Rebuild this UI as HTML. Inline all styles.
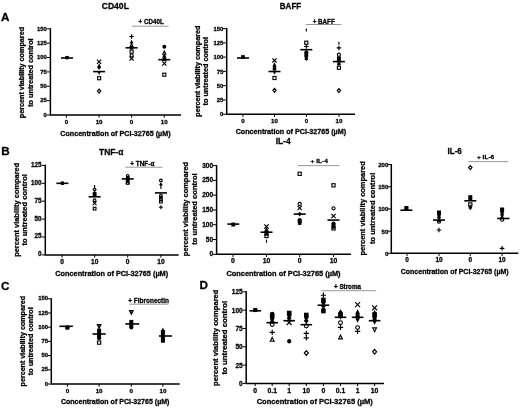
<!DOCTYPE html>
<html lang="en"><head><meta charset="utf-8"><title>Figure</title>
<style>
html,body{margin:0;padding:0;background:#fff}
body{width:520px;height:408px;overflow:hidden}
svg{display:block;filter:blur(0.45px);font-family:"Liberation Sans",Arial,Helvetica,sans-serif;font-weight:bold;fill:#000}
.ax{fill:none;stroke:#000;stroke-width:1.5;stroke-linejoin:miter}
.tk{fill:none;stroke:#000;stroke-width:1}
text{stroke:#000;stroke-width:0.28px;stroke-linejoin:round}
.mn{fill:none;stroke:#000;stroke-width:1.6}
.gl{fill:none;stroke:#333;stroke-width:0.5}
.f{fill:#000;stroke:none}
.o{fill:none;stroke:#000;stroke-width:1.12}
.b{fill:#999;stroke:#000;stroke-width:1.3}
.x{fill:none;stroke:#000;stroke-width:1.15}
</style></head><body>
<svg width="520" height="408" viewBox="0 0 520 408">
<rect width="520" height="408" fill="#fff"/>
<text x="1.1" y="20.8" font-size="11.7" text-anchor="start">A</text>
<text x="1.2" y="155.0" font-size="11.7" text-anchor="start">B</text>
<text x="1.1" y="289.6" font-size="11.7" text-anchor="start">C</text>
<text x="199.4" y="288.9" font-size="11.7" text-anchor="start">D</text>
<g id="pA">
<path d="M50.4 28.2V115H181" class="ax"/>
<text x="46.9" y="116.85" font-size="5.9" text-anchor="end">0</text>
<text x="46.9" y="102.48" font-size="5.9" text-anchor="end">25</text>
<text x="46.9" y="88.12" font-size="5.9" text-anchor="end">50</text>
<text x="46.9" y="73.75" font-size="5.9" text-anchor="end">75</text>
<text x="46.9" y="59.38" font-size="5.9" text-anchor="end">100</text>
<text x="46.9" y="45.02" font-size="5.9" text-anchor="end">125</text>
<text x="46.9" y="30.65" font-size="5.9" text-anchor="end">150</text>
<text x="66.4" y="123.9" font-size="6.2" text-anchor="middle">0</text>
<text x="99.1" y="123.9" font-size="6.2" text-anchor="middle">10</text>
<text x="131.6" y="123.9" font-size="6.2" text-anchor="middle">0</text>
<text x="164.3" y="123.9" font-size="6.2" text-anchor="middle">10</text>
<path d="M46.699999999999996 115.00H50.4M46.699999999999996 100.63H50.4M46.699999999999996 86.27H50.4M46.699999999999996 71.90H50.4M46.699999999999996 57.53H50.4M46.699999999999996 43.17H50.4M46.699999999999996 28.80H50.4M66.4 115V117.7M99.1 115V117.7M131.6 115V117.7M164.3 115V117.7" class="tk"/>
<text x="23.6" y="72.6" font-size="7.3" text-anchor="middle" textLength="91.3" lengthAdjust="spacingAndGlyphs" transform="rotate(-90 23.6 72.6)">percent viability compared</text>
<text x="32.7" y="72.6" font-size="7.3" text-anchor="middle" textLength="68.4" lengthAdjust="spacingAndGlyphs" transform="rotate(-90 32.7 72.6)">to untreated control</text>
<text x="115.4" y="135.7" font-size="7.3" text-anchor="middle" textLength="110.3" lengthAdjust="spacingAndGlyphs">Concentration of PCI-32765 (µM)</text>
<text x="115.3" y="9.2" font-size="8.6" text-anchor="middle" textLength="27.2" lengthAdjust="spacingAndGlyphs">CD40L</text>
<text x="151.2" y="24.4" font-size="6.3" text-anchor="middle" textLength="25.2" lengthAdjust="spacingAndGlyphs">+ CD40L</text>
<path d="M132 26.2H168.5" class="gl"/>
<rect x="65.4" y="56" width="3.2" height="3.2" class="f"/>
<circle cx="67" cy="57.6" r="1.8" class="f"/>
<path d="M61 58H73" class="mn"/>
<path d="M96.99 59.69L101.21 63.91M101.21 59.69L96.99 63.91" class="x"/>
<path d="M99.1 63.35L101.05 67.25H97.15Z" class="f"/>
<path d="M99.1 65.25L101.05 67.5L99.1 69.75L97.15 67.5Z" class="f"/>
<path d="M99.1 74.95L101.05 71.05H97.15Z" class="f"/>
<rect x="97.55" y="76.65" width="3.1" height="3.1" class="o"/>
<path d="M99.1 89.15L100.75 91.1L99.1 93.05L97.45 91.1Z" class="x"/>
<path d="M93.1 71.6H105.1" class="mn"/>
<path d="M129.36 36.5H133.84M131.6 34.26V38.74" class="x"/>
<path d="M131.6 39.65L133.55 43.55H129.65Z" class="f"/>
<path d="M131.6 43.65L133.15 46.85H130.05Z" class="o"/>
<circle cx="131.6" cy="47.8" r="1.95" class="f"/>
<rect x="130.05" y="50.05" width="3.1" height="3.1" class="o"/>
<circle cx="131.6" cy="55.5" r="1.55" class="o"/>
<path d="M129.49 56.49L133.71 60.71M133.71 56.49L129.49 60.71" class="x"/>
<path d="M125.6 47.8H137.6" class="mn"/>
<circle cx="164.3" cy="46.8" r="1.95" class="f"/>
<path d="M164.3 51.05L165.85 54.25H162.75Z" class="o"/>
<path d="M164.3 53.95L166.25 56.2L164.3 58.45L162.35 56.2Z" class="f"/>
<rect x="162.35" y="57.25" width="3.9" height="3.9" class="f"/>
<path d="M162.19 61.39L166.41 65.61M166.41 61.39L162.19 65.61" class="x"/>
<rect x="162.75" y="73.15" width="3.1" height="3.1" class="o"/>
<path d="M158.3 59.7H170.3" class="mn"/>
</g>
<g id="pBAFF">
<path d="M226.7 28.0V114.2H355" class="ax"/>
<text x="223.3" y="116.4" font-size="5.9" text-anchor="end">0</text>
<text x="223.3" y="102.13" font-size="5.9" text-anchor="end">25</text>
<text x="223.3" y="87.87" font-size="5.9" text-anchor="end">50</text>
<text x="223.3" y="73.6" font-size="5.9" text-anchor="end">75</text>
<text x="223.3" y="59.33" font-size="5.9" text-anchor="end">100</text>
<text x="223.3" y="45.07" font-size="5.9" text-anchor="end">125</text>
<text x="223.3" y="30.8" font-size="5.9" text-anchor="end">150</text>
<text x="242.9" y="122.8" font-size="6.2" text-anchor="middle">0</text>
<text x="274.5" y="122.8" font-size="6.2" text-anchor="middle">10</text>
<text x="306.4" y="122.8" font-size="6.2" text-anchor="middle">0</text>
<text x="339" y="122.8" font-size="6.2" text-anchor="middle">10</text>
<path d="M223.0 114.20H226.7M223.0 99.93H226.7M223.0 85.67H226.7M223.0 71.40H226.7M223.0 57.13H226.7M223.0 42.87H226.7M223.0 28.60H226.7M242.9 114.2V116.9M274.5 114.2V116.9M306.4 114.2V116.9M339 114.2V116.9" class="tk"/>
<text x="200.1" y="71.2" font-size="7.3" text-anchor="middle" textLength="91.1" lengthAdjust="spacingAndGlyphs" transform="rotate(-90 200.1 71.2)">percent viability compared</text>
<text x="208.5" y="71.2" font-size="7.3" text-anchor="middle" textLength="68.4" lengthAdjust="spacingAndGlyphs" transform="rotate(-90 208.5 71.2)">to untreated control</text>
<text x="290.85" y="134.0" font-size="7.3" text-anchor="middle" textLength="110.4" lengthAdjust="spacingAndGlyphs">Concentration of PCI-32765 (µM)</text>
<text x="290.5" y="8.8" font-size="8.6" text-anchor="middle" textLength="21.5" lengthAdjust="spacingAndGlyphs">BAFF</text>
<text x="323.7" y="23.7" font-size="6.3" text-anchor="middle" textLength="22.1" lengthAdjust="spacingAndGlyphs">+ BAFF</text>
<path d="M305.9 24.5H341.5" class="gl"/>
<rect x="241.7" y="55.7" width="2.6" height="2.6" class="o"/>
<rect x="241.8" y="56" width="2.4" height="2.4" class="f"/>
<path d="M237 58H249" class="mn"/>
<path d="M272.39 58.29L276.61 62.51M276.61 58.29L272.39 62.51" class="x"/>
<path d="M274.5 62.35L276.45 66.25H272.55Z" class="f"/>
<path d="M274.5 64.25L276.45 66.5L274.5 68.75L272.55 66.5Z" class="f"/>
<circle cx="274.5" cy="68.7" r="1.95" class="f"/>
<path d="M274.5 74.65L276.45 70.75H272.55Z" class="f"/>
<rect x="272.95" y="76.45" width="3.1" height="3.1" class="o"/>
<path d="M274.5 88.35L276.15 90.3L274.5 92.25L272.85 90.3Z" class="x"/>
<path d="M268.5 71.5H280.5" class="mn"/>
<path d="M306.3 28.45V31.55" class="o"/>
<rect x="304.75" y="41.15" width="3.1" height="3.1" class="o"/>
<path d="M304.06 46.5H308.54M306.3 44.26V48.74" class="x"/>
<circle cx="306.3" cy="52.2" r="1.95" class="f"/>
<rect x="304.35" y="52.55" width="3.9" height="3.9" class="f"/>
<path d="M306.3 54.25L308.25 56.5L306.3 58.75L304.35 56.5Z" class="f"/>
<path d="M306.3 56.05L308.25 59.95H304.35Z" class="f"/>
<path d="M306.3 61.25L308.25 57.35H304.35Z" class="f"/>
<path d="M300.3 49.7H312.3" class="mn"/>
<path d="M338.9 41.75V44.85" class="o"/>
<path d="M336.66 47.9H341.14M338.9 45.66V50.14" class="x"/>
<circle cx="338.9" cy="54.7" r="1.55" class="o"/>
<rect x="336.95" y="56.35" width="3.9" height="3.9" class="f"/>
<circle cx="338.9" cy="60.5" r="1.95" class="f"/>
<path d="M338.9 61.05L340.85 64.95H336.95Z" class="f"/>
<path d="M338.9 66.45L340.85 62.55H336.95Z" class="f"/>
<rect x="337.35" y="66.15" width="3.1" height="3.1" class="o"/>
<path d="M338.9 88.65L340.55 90.6L338.9 92.55L337.25 90.6Z" class="x"/>
<path d="M332.9 61.6H344.9" class="mn"/>
</g>
<g id="pTNF">
<path d="M45.3 164.8V254.9H178.6" class="ax"/>
<text x="41.6" y="256.3" font-size="6.3" text-anchor="end">0</text>
<text x="41.6" y="238.4" font-size="6.3" text-anchor="end">25</text>
<text x="41.6" y="220.5" font-size="6.3" text-anchor="end">50</text>
<text x="41.6" y="202.6" font-size="6.3" text-anchor="end">75</text>
<text x="41.6" y="184.7" font-size="6.3" text-anchor="end">100</text>
<text x="41.6" y="166.8" font-size="6.3" text-anchor="end">125</text>
<text x="62" y="264.4" font-size="6.6" text-anchor="middle">0</text>
<text x="94.7" y="264.4" font-size="6.6" text-anchor="middle">10</text>
<text x="127.7" y="264.4" font-size="6.6" text-anchor="middle">0</text>
<text x="160.9" y="264.4" font-size="6.6" text-anchor="middle">10</text>
<path d="M41.599999999999994 254.90H45.3M41.599999999999994 237.00H45.3M41.599999999999994 219.10H45.3M41.599999999999994 201.20H45.3M41.599999999999994 183.30H45.3M41.599999999999994 165.40H45.3M62 254.9V257.6M94.7 254.9V257.6M127.7 254.9V257.6M160.9 254.9V257.6" class="tk"/>
<text x="18.6" y="209.8" font-size="7.5" text-anchor="middle" textLength="94.1" lengthAdjust="spacingAndGlyphs" transform="rotate(-90 18.6 209.8)">percent viability compared</text>
<text x="27.4" y="209.8" font-size="7.5" text-anchor="middle" textLength="71.4" lengthAdjust="spacingAndGlyphs" transform="rotate(-90 27.4 209.8)">to untreated control</text>
<text x="111.7" y="276.2" font-size="7.5" text-anchor="middle" textLength="112.9" lengthAdjust="spacingAndGlyphs">Concentration of PCI-32765 (µM)</text>
<text x="111.2" y="154.9" font-size="8.6" text-anchor="middle" textLength="24.2" lengthAdjust="spacingAndGlyphs">TNF-α</text>
<text x="142.3" y="165.6" font-size="6.3" text-anchor="middle" textLength="24.1" lengthAdjust="spacingAndGlyphs">+ TNF-α</text>
<path d="M125.3 167.2H162.5" class="gl"/>
<rect x="60.8" y="181.6" width="3.2" height="3.2" class="f"/>
<circle cx="62.4" cy="183.3" r="1.7" class="f"/>
<path d="M56.4 183.3H68.4" class="mn"/>
<path d="M94.6 184.95V187.65" class="o"/>
<path d="M94.6 187.85L96.05 189.6L94.6 191.35L93.15 189.6Z" class="x"/>
<path d="M94.6 190.45L96.35 193.95H92.85Z" class="f"/>
<rect x="93.25" y="192.65" width="2.7" height="2.7" class="o"/>
<circle cx="94.6" cy="195.6" r="1.75" class="f"/>
<circle cx="94.6" cy="200.2" r="1.35" class="o"/>
<path d="M92.71 201.41L96.49 205.19M96.49 201.41L92.71 205.19" class="x"/>
<rect x="93.25" y="207.25" width="2.7" height="2.7" class="o"/>
<path d="M88.6 196.8H100.6" class="mn"/>
<circle cx="127.7" cy="175.9" r="1.35" class="o"/>
<rect x="125.95" y="175.85" width="3.5" height="3.5" class="f"/>
<circle cx="127.7" cy="179" r="1.75" class="f"/>
<path d="M127.7 178.65L129.45 182.15H125.95Z" class="f"/>
<path d="M125.81 179.91L129.59 183.69M129.59 179.91L125.81 183.69" class="x"/>
<rect x="126.35" y="181.55" width="2.7" height="2.7" class="o"/>
<path d="M121.7 178.9H133.7" class="mn"/>
<circle cx="160.9" cy="180.5" r="1.35" class="o"/>
<path d="M160.9 182.55L162.65 184.6L160.9 186.65L159.15 184.6Z" class="f"/>
<path d="M160.9 186.25V188.95" class="o"/>
<circle cx="160.9" cy="195.6" r="1.35" class="o"/>
<rect x="159.15" y="195.75" width="3.5" height="3.5" class="f"/>
<circle cx="160.9" cy="199.5" r="1.35" class="o"/>
<rect x="159.55" y="200.25" width="2.7" height="2.7" class="o"/>
<path d="M158.89 207.2H162.91M160.9 205.19V209.21" class="x"/>
<path d="M154.9 192.9H166.9" class="mn"/>
</g>
<g id="pIL4">
<path d="M216.6 165.0V254.3H351" class="ax"/>
<text x="213.1" y="256.4" font-size="6.5" text-anchor="end">0</text>
<text x="213.1" y="241.62" font-size="6.5" text-anchor="end">50</text>
<text x="213.1" y="226.83" font-size="6.5" text-anchor="end">100</text>
<text x="213.1" y="212.05" font-size="6.5" text-anchor="end">150</text>
<text x="213.1" y="197.27" font-size="6.5" text-anchor="end">200</text>
<text x="213.1" y="182.48" font-size="6.5" text-anchor="end">250</text>
<text x="213.1" y="167.7" font-size="6.5" text-anchor="end">300</text>
<text x="233" y="263.3" font-size="6.8" text-anchor="middle">0</text>
<text x="266.5" y="263.3" font-size="6.8" text-anchor="middle">10</text>
<text x="299.7" y="263.3" font-size="6.8" text-anchor="middle">0</text>
<text x="333.5" y="263.3" font-size="6.8" text-anchor="middle">10</text>
<path d="M212.9 254.30H216.6M212.9 239.52H216.6M212.9 224.73H216.6M212.9 209.95H216.6M212.9 195.17H216.6M212.9 180.38H216.6M212.9 165.60H216.6M233 254.3V257.0M266.5 254.3V257.0M299.7 254.3V257.0M333.5 254.3V257.0" class="tk"/>
<text x="188.2" y="209" font-size="7.5" text-anchor="middle" textLength="94.3" lengthAdjust="spacingAndGlyphs" transform="rotate(-90 188.2 209)">percent viability compared</text>
<text x="197.2" y="209" font-size="7.5" text-anchor="middle" textLength="71.4" lengthAdjust="spacingAndGlyphs" transform="rotate(-90 197.2 209)">to untreated control</text>
<text x="283.5" y="275.7" font-size="7.5" text-anchor="middle" textLength="114.2" lengthAdjust="spacingAndGlyphs">Concentration of PCI-32765 (µM)</text>
<text x="283.1" y="143.9" font-size="8.6" text-anchor="middle" textLength="14.9" lengthAdjust="spacingAndGlyphs">IL-4</text>
<text x="319.2" y="163.4" font-size="5.8" text-anchor="middle" textLength="17.2" lengthAdjust="spacingAndGlyphs">+ IL-4</text>
<path d="M297.6 165.6H339.5" class="gl"/>
<rect x="231.8" y="223.1" width="3" height="3" class="f"/>
<rect x="231.9" y="223.1" width="2.8" height="2.8" class="o"/>
<path d="M227.3 224.1H239.3" class="mn"/>
<path d="M264.34 224.44L268.66 228.76M268.66 224.44L264.34 228.76" class="x"/>
<path d="M266.5 227.2L268.5 231.2H264.5Z" class="f"/>
<circle cx="266.5" cy="231.3" r="2" class="f"/>
<rect x="264.5" y="231.7" width="4" height="4" class="f"/>
<rect x="264.9" y="234.4" width="3.2" height="3.2" class="o"/>
<path d="M266.5 239.6V242.8" class="o"/>
<path d="M260.5 232.2H272.5" class="mn"/>
<rect x="298.1" y="172.2" width="3.2" height="3.2" class="o"/>
<circle cx="299.7" cy="204" r="1.6" class="o"/>
<path d="M297.54 205.84L301.86 210.16M301.86 205.84L297.54 210.16" class="x"/>
<path d="M299.7 211.8L301.7 214.1L299.7 216.4L297.7 214.1Z" class="f"/>
<circle cx="299.7" cy="219.9" r="2" class="f"/>
<rect x="297.7" y="219.5" width="4" height="4" class="f"/>
<path d="M299.7 220.7L301.7 224.7H297.7Z" class="f"/>
<path d="M299.7 225.4L301.7 221.4H297.7Z" class="f"/>
<path d="M293.7 214.1H305.7" class="mn"/>
<rect x="331.9" y="183.7" width="3.2" height="3.2" class="o"/>
<circle cx="333.5" cy="208.3" r="1.6" class="o"/>
<path d="M331.34 213.84L335.66 218.16M335.66 213.84L331.34 218.16" class="x"/>
<circle cx="333.5" cy="223.6" r="2" class="f"/>
<rect x="331.5" y="223.3" width="4" height="4" class="f"/>
<path d="M333.5 224.8L335.5 228.8H331.5Z" class="f"/>
<rect x="331.9" y="226.8" width="3.2" height="3.2" class="o"/>
<path d="M327.5 220.1H339.5" class="mn"/>
</g>
<g id="pIL6">
<path d="M391.3 164.0V253.3H518.3" class="ax"/>
<text x="388.3" y="255.7" font-size="6.1" text-anchor="end">0</text>
<text x="388.3" y="233.53" font-size="6.1" text-anchor="end">50</text>
<text x="388.3" y="211.35" font-size="6.1" text-anchor="end">100</text>
<text x="388.3" y="189.18" font-size="6.1" text-anchor="end">150</text>
<text x="388.3" y="167.0" font-size="6.1" text-anchor="end">200</text>
<text x="407" y="262.0" font-size="6.3999999999999995" text-anchor="middle">0</text>
<text x="439" y="262.0" font-size="6.3999999999999995" text-anchor="middle">10</text>
<text x="470.3" y="262.0" font-size="6.3999999999999995" text-anchor="middle">0</text>
<text x="502.1" y="262.0" font-size="6.3999999999999995" text-anchor="middle">10</text>
<path d="M387.6 253.30H391.3M387.6 231.12H391.3M387.6 208.95H391.3M387.6 186.78H391.3M387.6 164.60H391.3M407 253.3V256.0M439 253.3V256.0M470.3 253.3V256.0M502.1 253.3V256.0" class="tk"/>
<text x="365.5" y="208.4" font-size="7.5" text-anchor="middle" textLength="94.3" lengthAdjust="spacingAndGlyphs" transform="rotate(-90 365.5 208.4)">percent viability compared</text>
<text x="375.0" y="208.4" font-size="7.5" text-anchor="middle" textLength="71.4" lengthAdjust="spacingAndGlyphs" transform="rotate(-90 375.0 208.4)">to untreated control</text>
<text x="454.7" y="273.7" font-size="7.2" text-anchor="middle" textLength="107.9" lengthAdjust="spacingAndGlyphs">Concentration of PCI-32765 (µM)</text>
<text x="454.7" y="154.1" font-size="8.6" text-anchor="middle" textLength="14.3" lengthAdjust="spacingAndGlyphs">IL-6</text>
<text x="485.6" y="159.3" font-size="5.8" text-anchor="middle" textLength="17.2" lengthAdjust="spacingAndGlyphs">+ IL-6</text>
<path d="M468.3 161.6H508" class="gl"/>
<rect x="404.9" y="206.8" width="3" height="3" class="f"/>
<rect x="404.9" y="206.6" width="3" height="3" class="o"/>
<path d="M400.4 210.2H412.4" class="mn"/>
<rect x="437" y="210.5" width="4" height="4" class="f"/>
<circle cx="439" cy="214.5" r="2" class="f"/>
<path d="M439 214.5L441 218.5H437Z" class="f"/>
<path d="M439 220.5L441 216.5H437Z" class="f"/>
<path d="M439 218.2L441 220.5L439 222.8L437 220.5Z" class="f"/>
<circle cx="439" cy="221.7" r="1.6" class="o"/>
<path d="M436.7 230H441.3M439 227.7V232.3" class="x"/>
<path d="M433 220.1H445" class="mn"/>
<path d="M470.3 165.6L472 167.6L470.3 169.6L468.6 167.6Z" class="x"/>
<rect x="468.3" y="195.2" width="4" height="4" class="f"/>
<circle cx="470.3" cy="199" r="2" class="f"/>
<rect x="468.7" y="202.9" width="3.2" height="3.2" class="o"/>
<path d="M470.3 204.5L472.3 208.5H468.3Z" class="f"/>
<path d="M470.3 210.5L472.3 206.5H468.3Z" class="f"/>
<path d="M464.3 200.8H476.3" class="mn"/>
<rect x="500.1" y="207.5" width="4" height="4" class="f"/>
<circle cx="502.1" cy="211.5" r="2" class="f"/>
<path d="M502.1 211.5L504.1 215.5H500.1Z" class="f"/>
<path d="M502.1 217.5L504.1 213.5H500.1Z" class="f"/>
<path d="M502.1 215.2L504.1 217.5L502.1 219.8L500.1 217.5Z" class="f"/>
<circle cx="502.1" cy="219.7" r="1.6" class="o"/>
<path d="M499.8 248.3H504.4M502.1 246V250.6" class="x"/>
<path d="M497.1 218.5H509.5" class="mn"/>
</g>
<g id="pC">
<path d="M51.3 298.2V384H179.6" class="ax"/>
<text x="48.0" y="385.6" font-size="5.9" text-anchor="end">0</text>
<text x="48.0" y="371.4" font-size="5.9" text-anchor="end">25</text>
<text x="48.0" y="357.2" font-size="5.9" text-anchor="end">50</text>
<text x="48.0" y="343.0" font-size="5.9" text-anchor="end">75</text>
<text x="48.0" y="328.8" font-size="5.9" text-anchor="end">100</text>
<text x="48.0" y="314.6" font-size="5.9" text-anchor="end">125</text>
<text x="48.0" y="300.4" font-size="5.9" text-anchor="end">150</text>
<text x="67.4" y="392.6" font-size="6.2" text-anchor="middle">0</text>
<text x="99.1" y="392.6" font-size="6.2" text-anchor="middle">10</text>
<text x="131.3" y="392.6" font-size="6.2" text-anchor="middle">0</text>
<text x="162.9" y="392.6" font-size="6.2" text-anchor="middle">10</text>
<path d="M47.599999999999994 384.00H51.3M47.599999999999994 369.80H51.3M47.599999999999994 355.60H51.3M47.599999999999994 341.40H51.3M47.599999999999994 327.20H51.3M47.599999999999994 313.00H51.3M47.599999999999994 298.80H51.3M67.4 384V386.7M99.1 384V386.7M131.3 384V386.7M162.9 384V386.7" class="tk"/>
<text x="25.1" y="341.2" font-size="7.3" text-anchor="middle" textLength="90.5" lengthAdjust="spacingAndGlyphs" transform="rotate(-90 25.1 341.2)">percent viability compared</text>
<text x="33.5" y="341.2" font-size="7.3" text-anchor="middle" textLength="67.9" lengthAdjust="spacingAndGlyphs" transform="rotate(-90 33.5 341.2)">to untreated control</text>
<text x="115.2" y="404.1" font-size="7.3" text-anchor="middle" textLength="108.5" lengthAdjust="spacingAndGlyphs">Concentration of PCI-32765 (µM)</text>
<text x="148.6" y="302.6" font-size="6.5" text-anchor="middle" textLength="40.7" lengthAdjust="spacingAndGlyphs">+ Fibronectin</text>
<path d="M129.3 304.2H168.5" class="gl"/>
<rect x="65.4" y="325.6" width="4" height="4" class="f"/>
<circle cx="67.4" cy="327.6" r="2" class="f"/>
<path d="M59.39999999999999 326.3H72.8" class="mn"/>
<path d="M99.1 328.1L100.8 324.7H97.4Z" class="b"/>
<rect x="97.1" y="328.6" width="4" height="4" class="f"/>
<circle cx="99.1" cy="332.6" r="2" class="f"/>
<rect x="97.1" y="333.6" width="4" height="4" class="f"/>
<circle cx="99.1" cy="338.2" r="2" class="f"/>
<rect x="97.5" y="341" width="3.2" height="3.2" class="o"/>
<path d="M92.5 334H105.69999999999999" class="mn"/>
<path d="M131.3 314.1L133 310.7H129.6Z" class="b"/>
<rect x="129.3" y="319.9" width="4" height="4" class="f"/>
<circle cx="131.3" cy="323.5" r="2" class="f"/>
<rect x="129.3" y="323.6" width="4" height="4" class="f"/>
<circle cx="131.3" cy="327.6" r="2" class="f"/>
<path d="M125.30000000000001 323.9H139.3" class="mn"/>
<path d="M162.9 327.6L164.9 331.6H160.9Z" class="f"/>
<rect x="160.9" y="330" width="4" height="4" class="f"/>
<circle cx="162.9" cy="334.5" r="2" class="f"/>
<rect x="160.9" y="335.2" width="4" height="4" class="f"/>
<circle cx="162.9" cy="339.5" r="2" class="f"/>
<rect x="160.9" y="338.7" width="4" height="4" class="f"/>
<path d="M158.9 336H172.1" class="mn"/>
</g>
<g id="pD">
<path d="M246.2 291.2V383.4H384" class="ax"/>
<text x="242.7" y="385.9" font-size="6.5" text-anchor="end">0</text>
<text x="242.7" y="367.58" font-size="6.5" text-anchor="end">25</text>
<text x="242.7" y="349.26" font-size="6.5" text-anchor="end">50</text>
<text x="242.7" y="330.94" font-size="6.5" text-anchor="end">75</text>
<text x="242.7" y="312.62" font-size="6.5" text-anchor="end">100</text>
<text x="242.7" y="294.3" font-size="6.5" text-anchor="end">125</text>
<text x="255.2" y="392.7" font-size="6.8" text-anchor="middle">0</text>
<text x="272.2" y="392.7" font-size="6.8" text-anchor="middle">0.1</text>
<text x="289.2" y="392.7" font-size="6.8" text-anchor="middle">1</text>
<text x="306.3" y="392.7" font-size="6.8" text-anchor="middle">10</text>
<text x="323.4" y="392.7" font-size="6.8" text-anchor="middle">0</text>
<text x="340.5" y="392.7" font-size="6.8" text-anchor="middle">0.1</text>
<text x="357.6" y="392.7" font-size="6.8" text-anchor="middle">1</text>
<text x="374.6" y="392.7" font-size="6.8" text-anchor="middle">10</text>
<path d="M242.5 383.40H246.2M242.5 365.08H246.2M242.5 346.76H246.2M242.5 328.44H246.2M242.5 310.12H246.2M242.5 291.80H246.2M255.2 383.4V386.09999999999997M272.2 383.4V386.09999999999997M289.2 383.4V386.09999999999997M306.3 383.4V386.09999999999997M323.4 383.4V386.09999999999997M340.5 383.4V386.09999999999997M357.6 383.4V386.09999999999997M374.6 383.4V386.09999999999997" class="tk"/>
<text x="217.6" y="337.7" font-size="7.8" text-anchor="middle" textLength="96.4" lengthAdjust="spacingAndGlyphs" transform="rotate(-90 217.6 337.7)">percent viability compared</text>
<text x="227.2" y="337.7" font-size="7.8" text-anchor="middle" textLength="73.6" lengthAdjust="spacingAndGlyphs" transform="rotate(-90 227.2 337.7)">to untreated control</text>
<text x="314.75" y="404.3" font-size="7.8" text-anchor="middle" textLength="116.2" lengthAdjust="spacingAndGlyphs">Concentration of PCI-32765 (µM)</text>
<text x="347.5" y="289.1" font-size="6.3" text-anchor="middle" textLength="27" lengthAdjust="spacingAndGlyphs">+ Stroma</text>
<path d="M321.4 290.7H376.2" class="gl"/>
<rect x="253.6" y="308.5" width="3.4" height="3.4" class="f"/>
<rect x="253.8" y="308.5" width="3" height="3" class="o"/>
<path d="M249.5 310.8H261.1" class="mn"/>
<circle cx="272.2" cy="314" r="2.3" class="f"/>
<rect x="269.9" y="313.7" width="4.6" height="4.6" class="f"/>
<path d="M272.2 315.7L274.5 320.3H269.9Z" class="f"/>
<path d="M272.2 322.3L274.5 317.7H269.9Z" class="f"/>
<path d="M272.2 318.9L274.5 321.5L272.2 324.1L269.9 321.5Z" class="f"/>
<circle cx="272.2" cy="324.5" r="1.9" class="o"/>
<path d="M269.56 332.4H274.84M272.2 329.75V335.04" class="x"/>
<path d="M272.2 337.4L274.1 341.3H270.3Z" class="o"/>
<path d="M266.4 322.7H278.0" class="mn"/>
<rect x="286.9" y="310.7" width="4.6" height="4.6" class="f"/>
<circle cx="289.2" cy="315" r="2.3" class="f"/>
<path d="M289.2 314.7L291.5 319.3H286.9Z" class="f"/>
<path d="M289.2 321.8L291.5 317.2H286.9Z" class="f"/>
<path d="M286.72 320.02L291.68 324.98M291.68 320.02L286.72 324.98" class="x"/>
<path d="M289.2 339.1L291 341.2L289.2 343.3L287.4 341.2Z" class="f"/>
<path d="M287 341.2H291.4M289.2 339V343.4M287.66 339.66L290.74 342.74M290.74 339.66L287.66 342.74" class="o"/>
<path d="M283.4 320.7H295.0" class="mn"/>
<rect x="304" y="312.7" width="4.6" height="4.6" class="f"/>
<circle cx="306.3" cy="317" r="2.3" class="f"/>
<path d="M306.3 317.2L308.6 321.8H304Z" class="f"/>
<path d="M306.3 324.3L308.6 319.7H304Z" class="f"/>
<circle cx="306.3" cy="326" r="1.9" class="o"/>
<path d="M303.66 333.4H308.94M306.3 330.75V336.04" class="x"/>
<path d="M303.66 337.8H308.94M306.3 335.16V340.44" class="x"/>
<path d="M306.3 350.7L308.3 353L306.3 355.3L304.3 353Z" class="x"/>
<path d="M300.5 324.7H312.1" class="mn"/>
<path d="M320.75 295.2H326.04M323.4 292.56V297.84" class="x"/>
<rect x="321.1" y="297.7" width="4.6" height="4.6" class="f"/>
<circle cx="323.4" cy="302" r="2.3" class="f"/>
<path d="M323.4 302.2L325.7 306.8H321.1Z" class="f"/>
<path d="M323.4 309.8L325.7 305.2H321.1Z" class="f"/>
<path d="M323.4 306.9L325.7 309.5L323.4 312.1L321.1 309.5Z" class="f"/>
<rect x="321.1" y="308.7" width="4.6" height="4.6" class="f"/>
<path d="M317.59999999999997 305.2H329.2" class="mn"/>
<path d="M340.5 308.9L342.8 313.5H338.2Z" class="f"/>
<circle cx="340.5" cy="313.2" r="2.3" class="f"/>
<rect x="338.2" y="312.7" width="4.6" height="4.6" class="f"/>
<path d="M340.5 319.8L342.8 315.2H338.2Z" class="f"/>
<circle cx="340.5" cy="322.7" r="1.9" class="o"/>
<path d="M337.86 327.3H343.14M340.5 324.66V329.94" class="x"/>
<path d="M340.5 335L342.4 338.9H338.6Z" class="o"/>
<path d="M334.7 317.3H346.3" class="mn"/>
<path d="M355.12 302.12L360.08 307.08M360.08 302.12L355.12 307.08" class="x"/>
<path d="M357.6 309.2L359.9 313.8H355.3Z" class="f"/>
<path d="M357.6 311.4L359.9 314L357.6 316.6L355.3 314Z" class="f"/>
<circle cx="357.6" cy="316.5" r="2.3" class="f"/>
<path d="M357.6 322.8L359.9 318.2H355.3Z" class="f"/>
<circle cx="357.6" cy="327.6" r="1.9" class="o"/>
<path d="M354.96 331.3H360.25M357.6 328.66V333.94" class="x"/>
<path d="M351.8 317.3H363.40000000000003" class="mn"/>
<path d="M372.12 305.32L377.08 310.28M377.08 305.32L372.12 310.28" class="x"/>
<path d="M374.6 309.7L376.9 314.3H372.3Z" class="f"/>
<rect x="372.3" y="312.2" width="4.6" height="4.6" class="f"/>
<circle cx="374.6" cy="317" r="2.3" class="f"/>
<path d="M374.6 316.9L376.9 319.5L374.6 322.1L372.3 319.5Z" class="f"/>
<path d="M374.6 324.8L376.9 320.2H372.3Z" class="f"/>
<path d="M374.6 331.8L376.5 327.9H372.7Z" class="o"/>
<path d="M374.6 349.5L376.6 351.8L374.6 354.1L372.6 351.8Z" class="x"/>
<path d="M368.8 320.7H380.40000000000003" class="mn"/>
</g>
</svg>
</body></html>
